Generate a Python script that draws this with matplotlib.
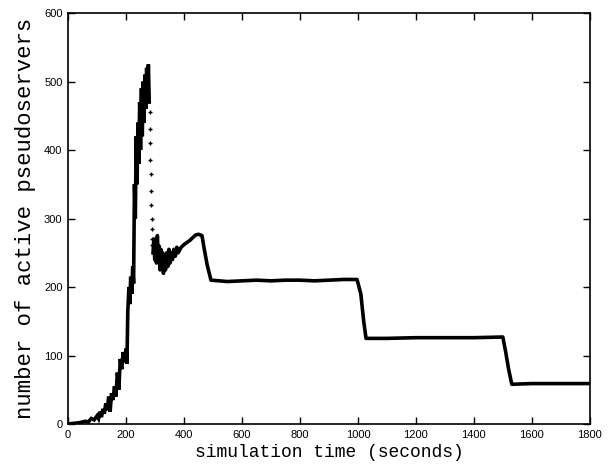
import matplotlib
matplotlib.use("Agg")
import matplotlib.pyplot as plt

# growth phase: start-up ramp up to the peak
rise_t = [0, 20, 40, 60, 70, 80, 90, 100, 105, 110, 115, 120, 125, 130, 135,
          140, 145, 150, 155, 160, 165, 170, 175, 180, 185, 190, 195, 200,
          203, 206, 210, 213, 216, 220, 223, 226, 229, 232, 235, 238, 241,
          244, 247, 250, 253, 256, 259, 262, 265, 268, 271, 274, 277, 280]
rise_v = [0, 1, 2, 4, 3, 8, 6, 12, 8, 18, 10, 22, 15, 30, 20,
          40, 18, 45, 35, 55, 40, 75, 50, 95, 80, 105, 90, 110,
          88, 165, 200, 175, 215, 190, 230, 205, 350, 300, 420, 350, 440,
          380, 470, 400, 490, 420, 500, 440, 510, 460, 520, 480, 525, 470]

# fast collapse after the peak (sparse samples)
drop_t = [281, 282, 283, 284, 285, 286, 287, 288, 289, 290, 291]
drop_v = [455, 430, 410, 385, 365, 340, 320, 300, 285, 270, 262]

# settling and the later plateaus
settle_t = [293, 296, 299, 302, 305, 308, 311, 314, 317, 320, 323, 326, 329,
            332, 336, 340, 344, 348, 352, 356, 360, 365, 370, 375, 380, 390,
            400, 410, 420, 430, 440, 450, 462, 470, 480, 493, 550, 600, 650,
            700, 750, 800, 850, 900, 950, 997, 1010, 1020, 1028, 1100, 1200,
            1300, 1400, 1500, 1510, 1520, 1531, 1600, 1700, 1800]
settle_v = [250, 270, 240, 265, 235, 275, 245, 260, 225, 255, 230, 250, 220,
            245, 225, 250, 230, 255, 235, 250, 240, 255, 245, 258, 250, 258,
            262, 265, 268, 272, 276, 277, 275, 255, 232, 210, 208, 209, 210,
            209, 210, 210, 209, 210, 211, 211, 190, 150, 125, 125, 126,
            126, 126, 127, 105, 80, 58, 59, 59, 59]

xticks = list(range(0, 1801, 200))
yticks = list(range(0, 601, 100))

fig = plt.figure(figsize=(6.08, 4.74), dpi=100)
ax = fig.add_axes([0.112, 0.1055, 0.858, 0.867])

ax.plot(rise_t, rise_v, color="black", lw=2.6, solid_joinstyle="miter")
ax.plot(drop_t, drop_v, ls="none", marker="+", ms=3, mew=1.0, color="black")
ax.plot(settle_t, settle_v, color="black", lw=2.6)

ax.set_xlim(0, 1800)
ax.set_ylim(0, 600)
ax.set_xticks(xticks)
ax.set_yticks(yticks)
ax.tick_params(direction="in", length=5, width=1, top=True, right=True,
               labelsize=8, pad=4)
for lab in ax.get_xticklabels() + ax.get_yticklabels():
    lab.set_family("Liberation Sans")
for sp in ax.spines.values():
    sp.set_linewidth(1.2)

ax.set_xlabel("simulation time (seconds)", family="Liberation Mono",
              fontsize=13, labelpad=3)
ax.set_ylabel("number of active pseudoservers", family="Liberation Mono",
              fontsize=16, labelpad=6)

fig.savefig("out.png", dpi=100)
